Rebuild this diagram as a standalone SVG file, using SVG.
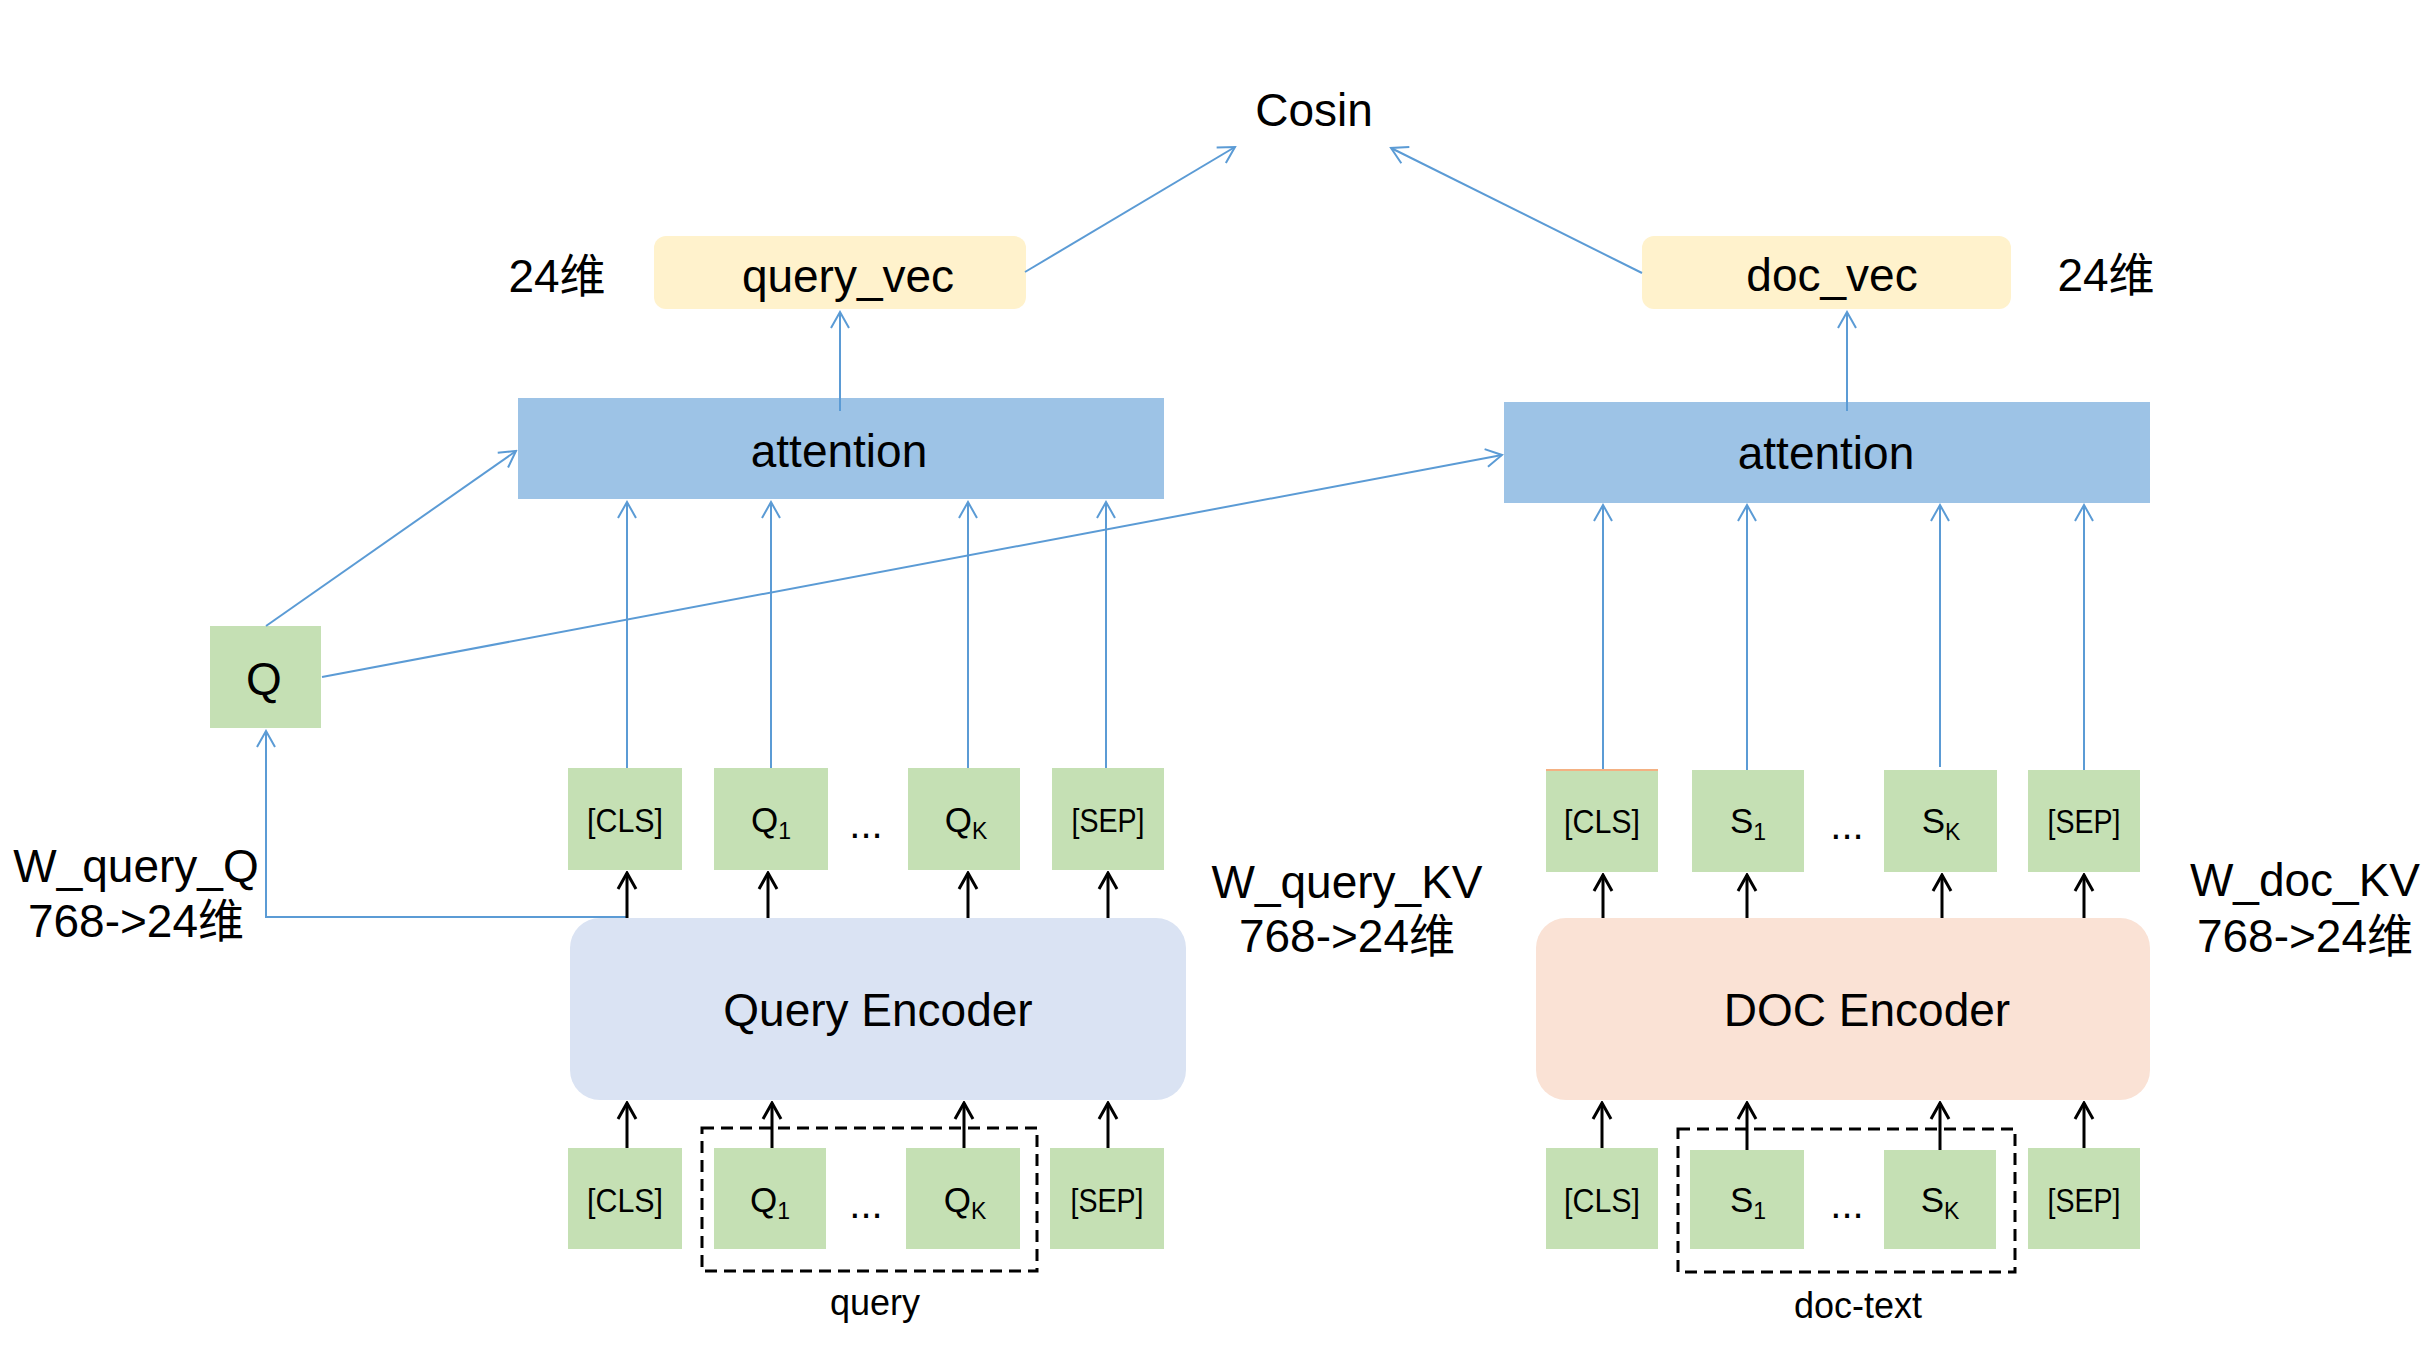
<svg xmlns="http://www.w3.org/2000/svg" width="2436" height="1356" viewBox="0 0 2436 1356">
<style>
text{font-family:"Liberation Sans","Noto Sans CJK SC",sans-serif;fill:#000}
.big{font-size:46px}
.tok{font-size:34px}
.qs{font-size:35px}
.sub{font-size:23px}
.dots{font-size:40px}
.cap{font-size:36px}
.g{fill:#c5e0b4}
.att{fill:#9dc3e6}
.vec{fill:#fff2cc}
.bl{stroke:#5b9bd5;stroke-width:2;fill:none}
.bk{stroke:#000;stroke-width:3;fill:none}
.dash{stroke:#000;stroke-width:3;fill:none;stroke-dasharray:12 7}
</style>
<defs>
<marker id="ab" viewBox="-18 -11 20 22" refX="0" refY="0" markerWidth="20" markerHeight="22" orient="auto" markerUnits="userSpaceOnUse">
<path d="M-16,-9 L0,0 L-16,9" fill="none" stroke="#5b9bd5" stroke-width="2"/>
</marker>
<marker id="ak" viewBox="-18 -11 20 22" refX="0" refY="0" markerWidth="20" markerHeight="22" orient="auto" markerUnits="userSpaceOnUse">
<path d="M-16,-9 L0,0 L-16,9" fill="none" stroke="#000" stroke-width="3"/>
</marker>
</defs>
<rect width="2436" height="1356" fill="#fff"/>

<g id="cosin"><text class="big" x="1314" y="126" text-anchor="middle">Cosin</text></g>

<g id="query_vec"><rect class="vec" x="654" y="236" width="372" height="73" rx="12"/><text class="big" x="848" y="292" text-anchor="middle">query_vec</text></g>
<g id="doc_vec"><rect class="vec" x="1642" y="236" width="369" height="73" rx="12"/><text class="big" x="1832" y="291" text-anchor="middle">doc_vec</text></g>
<g id="label-24-left"><text class="big" x="557" y="292" text-anchor="middle">24维</text></g>
<g id="label-24-right"><text class="big" x="2106" y="291" text-anchor="middle">24维</text></g>

<g id="attention_left"><rect class="att" x="518" y="398" width="646" height="101"/><text class="big" x="839" y="467" text-anchor="middle">attention</text></g>
<g id="attention_right"><rect class="att" x="1504" y="402" width="646" height="101"/><text class="big" x="1826" y="469" text-anchor="middle">attention</text></g>

<g id="Q"><rect class="g" x="210" y="626" width="111" height="102"/><text class="big" x="264" y="695" text-anchor="middle">Q</text></g>

<g id="label-wq"><text class="big" x="136" y="882" text-anchor="middle">W_query_Q</text><text class="big" x="136" y="937" text-anchor="middle">768-&gt;24维</text></g>
<g id="label-wqkv"><text class="big" x="1347" y="898" text-anchor="middle">W_query_KV</text><text class="big" x="1347" y="952" text-anchor="middle">768-&gt;24维</text></g>
<g id="label-wdkv"><text class="big" x="2305" y="896" text-anchor="middle">W_doc_KV</text><text class="big" x="2305" y="952" text-anchor="middle">768-&gt;24维</text></g>

<!-- left top tokens -->
<g id="lt-cls"><rect class="g" x="568" y="768" width="114" height="102"/><text class="tok" x="625" y="832" text-anchor="middle" textLength="76" lengthAdjust="spacingAndGlyphs">[CLS]</text></g>
<g id="lt-q1"><rect class="g" x="714" y="768" width="114" height="102"/><text class="qs" x="771" y="832" text-anchor="middle">Q<tspan class="sub" dy="7">1</tspan></text></g>
<g id="lt-dots"><text class="dots" x="866" y="838" text-anchor="middle">...</text></g>
<g id="lt-qk"><rect class="g" x="908" y="768" width="112" height="102"/><text class="qs" x="966" y="832" text-anchor="middle">Q<tspan class="sub" dy="7">K</tspan></text></g>
<g id="lt-sep"><rect class="g" x="1052" y="768" width="112" height="102"/><text class="tok" x="1108" y="832" text-anchor="middle" textLength="73" lengthAdjust="spacingAndGlyphs">[SEP]</text></g>

<g id="query_encoder"><rect x="570" y="918" width="616" height="182" rx="30" fill="#dae3f3"/><text class="big" x="878" y="1026" text-anchor="middle">Query Encoder</text></g>

<!-- left bottom tokens -->
<g id="lb-cls"><rect class="g" x="568" y="1148" width="114" height="101"/><text class="tok" x="625" y="1212" text-anchor="middle" textLength="76" lengthAdjust="spacingAndGlyphs">[CLS]</text></g>
<g id="lb-q1"><rect class="g" x="714" y="1148" width="112" height="101"/><text class="qs" x="770" y="1212" text-anchor="middle">Q<tspan class="sub" dy="7">1</tspan></text></g>
<g id="lb-dots"><text class="dots" x="866" y="1218" text-anchor="middle">...</text></g>
<g id="lb-qk"><rect class="g" x="906" y="1148" width="114" height="101"/><text class="qs" x="965" y="1212" text-anchor="middle">Q<tspan class="sub" dy="7">K</tspan></text></g>
<g id="lb-sep"><rect class="g" x="1050" y="1148" width="114" height="101"/><text class="tok" x="1107" y="1212" text-anchor="middle" textLength="73" lengthAdjust="spacingAndGlyphs">[SEP]</text></g>
<g id="query-group"><rect class="dash" x="702" y="1128" width="335" height="143"/><text class="cap" x="875" y="1315" text-anchor="middle">query</text></g>

<!-- right top tokens -->
<g id="rt-cls"><rect class="g" x="1546" y="769" width="112" height="103"/><line x1="1546" y1="770" x2="1658" y2="770" stroke="#f4b183" stroke-width="2"/><text class="tok" x="1602" y="833" text-anchor="middle" textLength="76" lengthAdjust="spacingAndGlyphs">[CLS]</text></g>
<g id="rt-s1"><rect class="g" x="1692" y="770" width="112" height="102"/><text class="qs" x="1748" y="833" text-anchor="middle">S<tspan class="sub" dy="7">1</tspan></text></g>
<g id="rt-dots"><text class="dots" x="1847" y="839" text-anchor="middle">...</text></g>
<g id="rt-sk"><rect class="g" x="1884" y="770" width="113" height="102"/><text class="qs" x="1941" y="833" text-anchor="middle">S<tspan class="sub" dy="7">K</tspan></text></g>
<g id="rt-sep"><rect class="g" x="2028" y="770" width="112" height="102"/><text class="tok" x="2084" y="833" text-anchor="middle" textLength="73" lengthAdjust="spacingAndGlyphs">[SEP]</text></g>

<g id="doc_encoder"><rect x="1536" y="918" width="614" height="182" rx="30" fill="#fae2d5"/><text class="big" x="1867" y="1026" text-anchor="middle">DOC Encoder</text></g>

<!-- right bottom tokens -->
<g id="rb-cls"><rect class="g" x="1546" y="1148" width="112" height="101"/><text class="tok" x="1602" y="1212" text-anchor="middle" textLength="76" lengthAdjust="spacingAndGlyphs">[CLS]</text></g>
<g id="rb-s1"><rect class="g" x="1690" y="1150" width="114" height="99"/><text class="qs" x="1748" y="1212" text-anchor="middle">S<tspan class="sub" dy="7">1</tspan></text></g>
<g id="rb-dots"><text class="dots" x="1847" y="1218" text-anchor="middle">...</text></g>
<g id="rb-sk"><rect class="g" x="1884" y="1150" width="112" height="99"/><text class="qs" x="1940" y="1212" text-anchor="middle">S<tspan class="sub" dy="7">K</tspan></text></g>
<g id="rb-sep"><rect class="g" x="2028" y="1148" width="112" height="101"/><text class="tok" x="2084" y="1212" text-anchor="middle" textLength="73" lengthAdjust="spacingAndGlyphs">[SEP]</text></g>
<g id="doc-group"><rect class="dash" x="1678" y="1129" width="337" height="143"/><text class="cap" x="1858" y="1318" text-anchor="middle">doc-text</text></g>

<g id="connectors">
<line class="bl" x1="840" y1="411" x2="840" y2="312" marker-end="url(#ab)"/>
<line class="bl" x1="1847" y1="411" x2="1847" y2="312" marker-end="url(#ab)"/>
<line class="bl" x1="1025" y1="272" x2="1235" y2="147" marker-end="url(#ab)"/>
<line class="bl" x1="1642" y1="273" x2="1391" y2="148" marker-end="url(#ab)"/>
<line class="bl" x1="266" y1="626" x2="516" y2="451" marker-end="url(#ab)"/>
<line class="bl" x1="322" y1="677" x2="1502" y2="455" marker-end="url(#ab)"/>
<polyline class="bl" points="627,917 266,917 266,731" marker-end="url(#ab)"/>
<line class="bl" x1="627" y1="768" x2="627" y2="502" marker-end="url(#ab)"/>
<line class="bl" x1="771" y1="768" x2="771" y2="502" marker-end="url(#ab)"/>
<line class="bl" x1="968" y1="768" x2="968" y2="502" marker-end="url(#ab)"/>
<line class="bl" x1="1106" y1="768" x2="1106" y2="502" marker-end="url(#ab)"/>
<line class="bl" x1="1603" y1="769" x2="1603" y2="505" marker-end="url(#ab)"/>
<line class="bl" x1="1747" y1="770" x2="1747" y2="505" marker-end="url(#ab)"/>
<line class="bl" x1="1940" y1="767" x2="1940" y2="505" marker-end="url(#ab)"/>
<line class="bl" x1="2084" y1="770" x2="2084" y2="505" marker-end="url(#ab)"/>

<line class="bk" x1="627" y1="918" x2="627" y2="873" marker-end="url(#ak)"/>
<line class="bk" x1="768" y1="918" x2="768" y2="873" marker-end="url(#ak)"/>
<line class="bk" x1="968" y1="918" x2="968" y2="873" marker-end="url(#ak)"/>
<line class="bk" x1="1108" y1="918" x2="1108" y2="873" marker-end="url(#ak)"/>
<line class="bk" x1="1603" y1="918" x2="1603" y2="875" marker-end="url(#ak)"/>
<line class="bk" x1="1747" y1="918" x2="1747" y2="875" marker-end="url(#ak)"/>
<line class="bk" x1="1942" y1="918" x2="1942" y2="875" marker-end="url(#ak)"/>
<line class="bk" x1="2084" y1="918" x2="2084" y2="875" marker-end="url(#ak)"/>

<line class="bk" x1="627" y1="1148" x2="627" y2="1103" marker-end="url(#ak)"/>
<line class="bk" x1="772" y1="1148" x2="772" y2="1103" marker-end="url(#ak)"/>
<line class="bk" x1="964" y1="1148" x2="964" y2="1103" marker-end="url(#ak)"/>
<line class="bk" x1="1108" y1="1148" x2="1108" y2="1103" marker-end="url(#ak)"/>
<line class="bk" x1="1602" y1="1148" x2="1602" y2="1103" marker-end="url(#ak)"/>
<line class="bk" x1="1747" y1="1150" x2="1747" y2="1103" marker-end="url(#ak)"/>
<line class="bk" x1="1940" y1="1150" x2="1940" y2="1103" marker-end="url(#ak)"/>
<line class="bk" x1="2084" y1="1148" x2="2084" y2="1103" marker-end="url(#ak)"/>
</g>
</svg>
